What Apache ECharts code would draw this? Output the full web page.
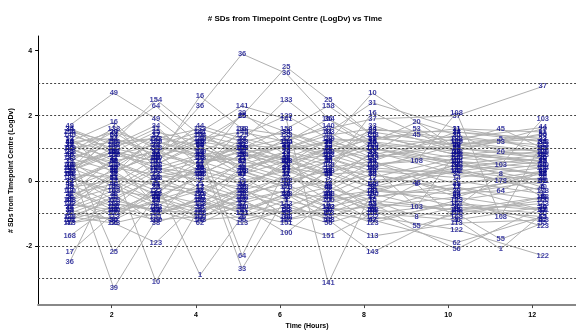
<!DOCTYPE html>
<html>
<head>
<meta charset="utf-8">
<script src="https://cdn.jsdelivr.net/npm/echarts@6/dist/echarts.min.js"></script>
<style>
  html, body { margin: 0; padding: 0; background: #fff; }
  #chart { width: 576px; height: 335px; }
</style>
</head>
<body>
<div id="chart"></div>
<script>
  const _ = null

  // sampling times (hours), one per timepoint column
  const times = [1, 2.05, 3.05, 4.1, 5.1, 6.15, 7.15, 8.2, 9.25, 10.2, 11.25, 12.25]
  const xTicks = [2, 4, 6, 8, 10, 12]
  const yTicks = [4, 2, 0, -2]
  const refLevels = [-3, -2, -1, 0, 1, 2, 3]

  // subject ids and their # SDs at each timepoint
  const subjectIds = [
    '36', '25', '39', '49', '154', '64', '10', '16', '1', '141',
    '33', '133', '129', '158', '140', '31', '37', '23', '20', '53',
    '55', '108', '103', '45', '5', '8', '178', '48', '122', '62',
    '56', '151', '100', '113', '143', '123', '168', '17', '138', '35',
    '44', '11', '2', '3', '4', '6', '7', '9', '12', '13',
    '14', '15', '19', '21', '22', '24', '26', '27', '28', '29',
    '30', '32', '34', '38', '40', '41', '42', '43', '46', '47',
    '50', '51'
  ]
  const sdValues = [
    [-2.5, 0.3, 0.8, 2.3, 3.9, 3.3, 1.9, 1.2, _, 0.5, _, 0.2],
    [0.9, -2.2, -0.5, 1.0, 2.0, 3.5, 2.5, 1.4, _, 0.8, _, 0.6],
    [0.5, -3.3, -1.2, 0.4, 2.1, 1.1, 0.7, 0.2, _, -0.3, _, 0.1],
    [1.7, 2.7, 1.9, 0.9, 0.2, 0.6, 1.0, 0.4, _, 1.1, _, 0.9],
    [1.5, 1.2, 2.5, 1.4, 0.8, 1.2, 1.9, 1.0, _, 0.6, _, 0.4],
    [0.2, 1.4, 2.3, 1.1, -2.3, 0.4, -0.2, 0.6, _, -0.4, -0.3, 0.3],
    [-0.6, 0.4, -3.1, -0.8, 0.3, 0.9, 1.2, 2.7, _, 1.0, _, 0.7],
    [1.2, 1.8, 0.6, 2.6, 1.6, 0.8, 0.3, 2.1, _, 0.9, _, 0.5],
    [-1.0, -0.5, 0.0, -2.9, -1.1, -0.6, -0.9, -0.8, -0.1, -1.2, -2.1, -1.0],
    [0.4, 0.9, 0.6, 1.5, 2.3, 1.9, -3.15, -0.3, _, 0.3, _, 0.0],
    [-0.8, 0.2, 1.0, 0.8, -2.7, -0.5, 0.3, 1.7, _, 0.9, _, 0.6],
    [0.7, 1.1, 1.3, 1.6, 1.2, 2.5, 1.5, 0.8, _, 1.3, _, 1.1],
    [1.0, 0.5, 1.2, 0.9, 1.4, 2.0, 1.3, 0.7, _, 1.2, _, 0.9],
    [0.3, 0.8, 0.5, 1.2, 1.0, 1.6, 2.3, 1.4, _, 0.8, _, 1.0],
    [1.4, 1.0, 0.7, 1.3, 1.5, 1.2, 1.7, 1.1, _, 0.7, _, 0.5],
    [0.6, 1.3, 0.9, 0.5, 1.1, 1.0, 1.5, 2.4, _, 1.6, _, 1.2],
    [1.1, 0.7, 1.4, 1.0, 0.6, 1.3, 1.6, 1.9, _, 2.0, _, 2.9],
    [0.0, 0.5, -0.2, 0.6, 0.9, 0.4, 1.0, 1.55, _, 1.5, _, 1.3],
    [0.8, 1.5, 1.1, 0.7, 0.5, 0.9, 0.6, 1.2, 1.8, 1.4, 0.9, 0.7],
    [1.3, 0.6, 0.9, 1.4, 1.1, 0.7, 1.2, 0.9, 1.6, 1.0, 1.2, 1.45],
    [-0.9, -1.2, -0.6, -1.0, -0.4, -0.8, -1.1, -0.7, -1.4, -1.0, -1.8, -1.3],
    [0.1, -0.3, 0.4, 0.2, -0.5, 0.0, 0.3, 0.5, 0.6, 2.1, -1.1, 1.2],
    [0.5, 0.9, 0.3, 0.7, 1.0, 0.6, 0.8, 0.4, -0.8, 0.9, 0.5, 1.9],
    [1.0, 0.4, 1.2, 0.8, 0.6, 1.1, 0.9, 1.3, 1.4, 1.2, 1.6, 1.0],
    [0.3, 0.9, 0.6, 0.2, 0.8, 0.5, 1.0, 0.7, _, 1.1, 1.3, 0.8],
    [-0.4, -0.1, -0.7, -0.3, -0.9, -0.5, -0.2, -0.6, -1.1, -0.8, 0.2, -0.5],
    [0.2, -0.6, 0.1, -0.4, 0.3, -0.2, 0.5, -0.1, _, 0.4, 0.0, -0.3],
    [-0.2, 0.3, -0.5, 0.1, -0.3, 0.6, -0.4, 0.2, -0.06, -0.5, _, 0.3],
    [-0.7, -1.0, -0.3, -0.9, -0.6, -1.2, -0.8, -1.1, _, -1.5, _, -2.3],
    [-1.1, -0.6, -0.9, -1.3, -0.7, -1.0, -0.5, -1.2, _, -1.9, _, -1.1],
    [-0.5, -1.3, -1.0, -0.6, -1.2, -0.9, -1.3, -0.9, _, -2.1, _, -0.8],
    [-1.2, -0.8, -1.1, -0.5, -1.0, -1.3, -1.7, -1.0, _, -0.7, _, -0.9],
    [-0.3, -0.9, -1.2, -1.1, -0.8, -1.6, -0.6, -0.4, _, -1.0, _, -0.6],
    [-1.3, -1.1, -0.4, -0.7, -1.3, -0.9, -1.0, -1.7, _, -1.3, _, -1.2],
    [-0.6, -0.2, -0.8, -1.2, -0.3, -0.7, -1.2, -2.2, _, -0.9, _, -0.7],
    [-1.1, -1.3, -1.9, -0.6, -1.0, -0.4, -0.8, -1.3, _, -0.6, _, -1.4],
    [-1.7, -0.7, -0.9, -1.0, -0.2, -1.1, -0.4, -0.9, _, -1.1, _, -0.5],
    [-2.2, -1.0, -0.6, -0.2, -0.7, -0.3, -1.0, -0.5, _, -0.2, _, -0.9],
    [0.9, 1.6, 1.0, 0.3, 1.6, 1.4, 0.9, 1.0, _, 0.5, _, 0.8],
    [1.6, 0.9, 1.5, 1.2, 2.0, 1.5, 1.1, 0.9, _, 1.4, _, 1.0],
    [1.2, 1.3, 0.8, 1.7, 1.3, 1.0, 1.4, 1.6, _, 1.3, _, 1.64],
    [0.4, 1.0, 1.6, 0.6, 0.7, 0.2, 0.9, 1.3, _, 1.6, _, 1.5],
    [0.1, -0.4, 0.3, 0.0, -0.2, 0.5, -0.1, 0.2, _, -0.3, _, 0.1],
    [-0.5, 0.2, -0.3, 0.4, 0.1, -0.6, 0.3, -0.2, _, 0.0, _, -0.4],
    [0.7, 0.3, 0.8, 0.5, 0.9, 0.2, 0.6, 1.0, _, 0.4, _, 0.7],
    [-0.8, -0.3, -0.5, -0.9, -0.4, -0.1, -0.7, -0.3, _, -0.6, _, -0.2],
    [0.3, 1.7, 0.4, 0.0, 0.5, 0.1, -0.3, 0.4, _, 0.2, _, -0.1],
    [-0.1, 0.6, 0.0, -0.5, 0.4, 0.7, 0.1, -0.4, _, 0.5, _, 0.2],
    [1.3, 0.2, 1.4, 0.9, 0.4, 0.8, 0.5, 0.1, _, 0.7, _, 0.9],
    [-0.3, -0.8, 0.2, -0.2, -0.6, -0.3, 0.0, -0.9, _, -0.2, _, -0.6],
    [0.5, 0.1, -0.1, 0.3, 0.0, 0.3, 0.7, 0.3, _, 0.1, _, 0.4],
    [-1.2, -0.5, -1.0, -0.7, -0.9, -0.4, -1.2, -0.6, _, -0.9, _, -1.1],
    [0.6, -0.2, 0.5, 1.1, 0.3, -0.1, 0.4, 0.6, _, -0.1, _, 0.3],
    [-0.4, 0.7, -0.8, -0.1, -0.5, 0.2, -0.6, 0.0, _, 0.3, _, -0.3],
    [1.5, 0.8, 1.1, 1.5, 0.7, 1.1, 0.8, 1.5, _, 1.1, _, 1.3],
    [0.2, 1.4, 0.1, 0.4, 1.3, 0.6, 0.2, 0.8, _, 0.6, _, 0.2],
    [-0.7, -0.9, -0.4, -1.2, -1.1, -0.8, -0.3, -1.0, _, -1.2, _, -0.8],
    [0.9, 0.4, 0.2, 0.6, 0.2, 0.9, 1.2, 0.5, _, 0.8, _, 0.6],
    [-0.2, 0.0, -0.6, 0.2, -0.1, -0.4, -0.5, -0.3, _, -0.4, _, 0.0],
    [1.1, 1.5, 0.7, 1.3, 1.0, 0.5, 1.3, 1.2, _, 0.9, _, 1.6],
    [-1.0, -1.2, -0.2, -0.4, -0.8, -1.0, -0.9, -0.2, _, -0.8, _, -1.0],
    [0.0, 0.6, 0.9, -0.3, 0.6, 0.3, -0.1, 0.9, _, 0.2, _, 0.5],
    [1.6, 1.1, 1.7, 0.4, 1.2, 1.5, 1.0, 0.6, _, 1.5, _, 1.2],
    [-0.9, -0.4, -1.3, -0.8, -0.2, -1.1, -0.4, -0.8, _, -0.5, _, -0.9],
    [0.4, -0.1, 0.7, 1.2, 0.4, 0.0, 0.6, -0.1, _, 0.6, _, -0.2],
    [-0.6, 0.1, -0.1, -0.3, 0.2, -0.2, -0.8, -0.5, _, -0.1, _, 0.2],
    [1.2, 0.9, 0.4, 0.8, 1.0, 1.3, 0.7, 1.1, _, 1.0, _, 0.8],
    [-0.1, -0.7, -0.9, -0.6, -0.3, 0.1, -0.2, -0.7, _, -0.9, _, -0.5],
    [0.8, 0.6, 0.1, 0.2, 0.8, 0.7, 0.2, 0.3, _, 0.3, _, 0.6],
    [-1.3, -0.9, -0.7, -1.1, -0.6, -1.2, -1.0, -1.2, _, -0.7, _, -1.2],
    [1.0, 1.2, 1.3, 1.1, 0.9, 1.0, 1.2, 1.3, _, 1.1, _, 1.4],
    [0.2, 0.1, -0.4, 0.5, -0.1, 0.4, 0.2, -0.2, _, 0.5, _, 0.0]
  ]

  const chart = echarts.init(document.getElementById('chart'))

  const axisFont = { fontFamily: 'Liberation Sans', fontSize: 7, fontWeight: 'bold', color: '#000' }

  // 每个受试者一条灰线
  const lineSeries = subjectIds.map((id, s) => ({
    type: 'line',
    name: id,
    silent: true,
    showSymbol: false,
    z: 2,
    lineStyle: { color: '#b0b0b0', width: 1 },
    data: times.map((t, i) => [t, sdValues[s][i]]).filter(p => p[1] !== null)
  }))

  // 参考虚线
  lineSeries[0].markLine = {
    silent: true,
    symbol: 'none',
    label: { show: false },
    lineStyle: { color: '#444', width: 1, type: [2, 2] },
    data: refLevels.map(v => ({ yAxis: v }))
  }

  // 数据点上的受试者编号
  const labelPoints = []
  subjectIds.forEach((id, s) => {
    times.forEach((t, i) => {
      if (sdValues[s][i] !== null) labelPoints.push({ name: id, value: [t, sdValues[s][i]] })
    })
  })

  const option = {
    animation: false,
    backgroundColor: '#fff',
    title: {
      text: '# SDs from Timepoint Centre (LogDv) vs Time',
      left: 290,
      textAlign: 'center',
      top: 10,
      textStyle: { fontFamily: 'Liberation Sans', fontSize: 8, fontWeight: 'bold', color: '#000' }
    },
    grid: { left: 36, right: 0, top: 36, bottom: 27 },
    xAxis: {
      type: 'value',
      min: 0.25,
      max: 13.04,
      name: 'Time (Hours)',
      nameLocation: 'middle',
      nameGap: 17,
      nameTextStyle: axisFont,
      axisLine: { onZero: false, lineStyle: { color: '#888', width: 2 } },
      axisTick: { customValues: xTicks, length: 3, lineStyle: { color: '#444' } },
      axisLabel: { customValues: xTicks, margin: 6, ...axisFont },
      splitLine: { show: false }
    },
    yAxis: {
      type: 'value',
      min: -3.82,
      max: 4.45,
      name: '# SDs from Timepoint Centre (LogDv)',
      nameLocation: 'middle',
      nameGap: 20,
      nameTextStyle: axisFont,
      axisLine: { show: true, onZero: false, lineStyle: { color: '#000', width: 1 } },
      axisTick: { customValues: yTicks, length: 3, lineStyle: { color: '#000' } },
      axisLabel: { customValues: yTicks, margin: 6, ...axisFont },
      splitLine: { show: false }
    },
    series: [
      ...lineSeries,
      {
        type: 'scatter',
        silent: true,
        z: 3,
        symbolSize: 1,
        itemStyle: { color: 'rgba(0,0,0,0)' },
        label: {
          show: true,
          position: 'inside',
          formatter: '{b}',
          fontFamily: 'Liberation Sans',
          fontSize: 7.5,
          fontWeight: 'bold',
          color: '#0d0d8c'
        },
        data: labelPoints
      }
    ]
  }

  chart.setOption(option)
</script>
</body>
</html>
